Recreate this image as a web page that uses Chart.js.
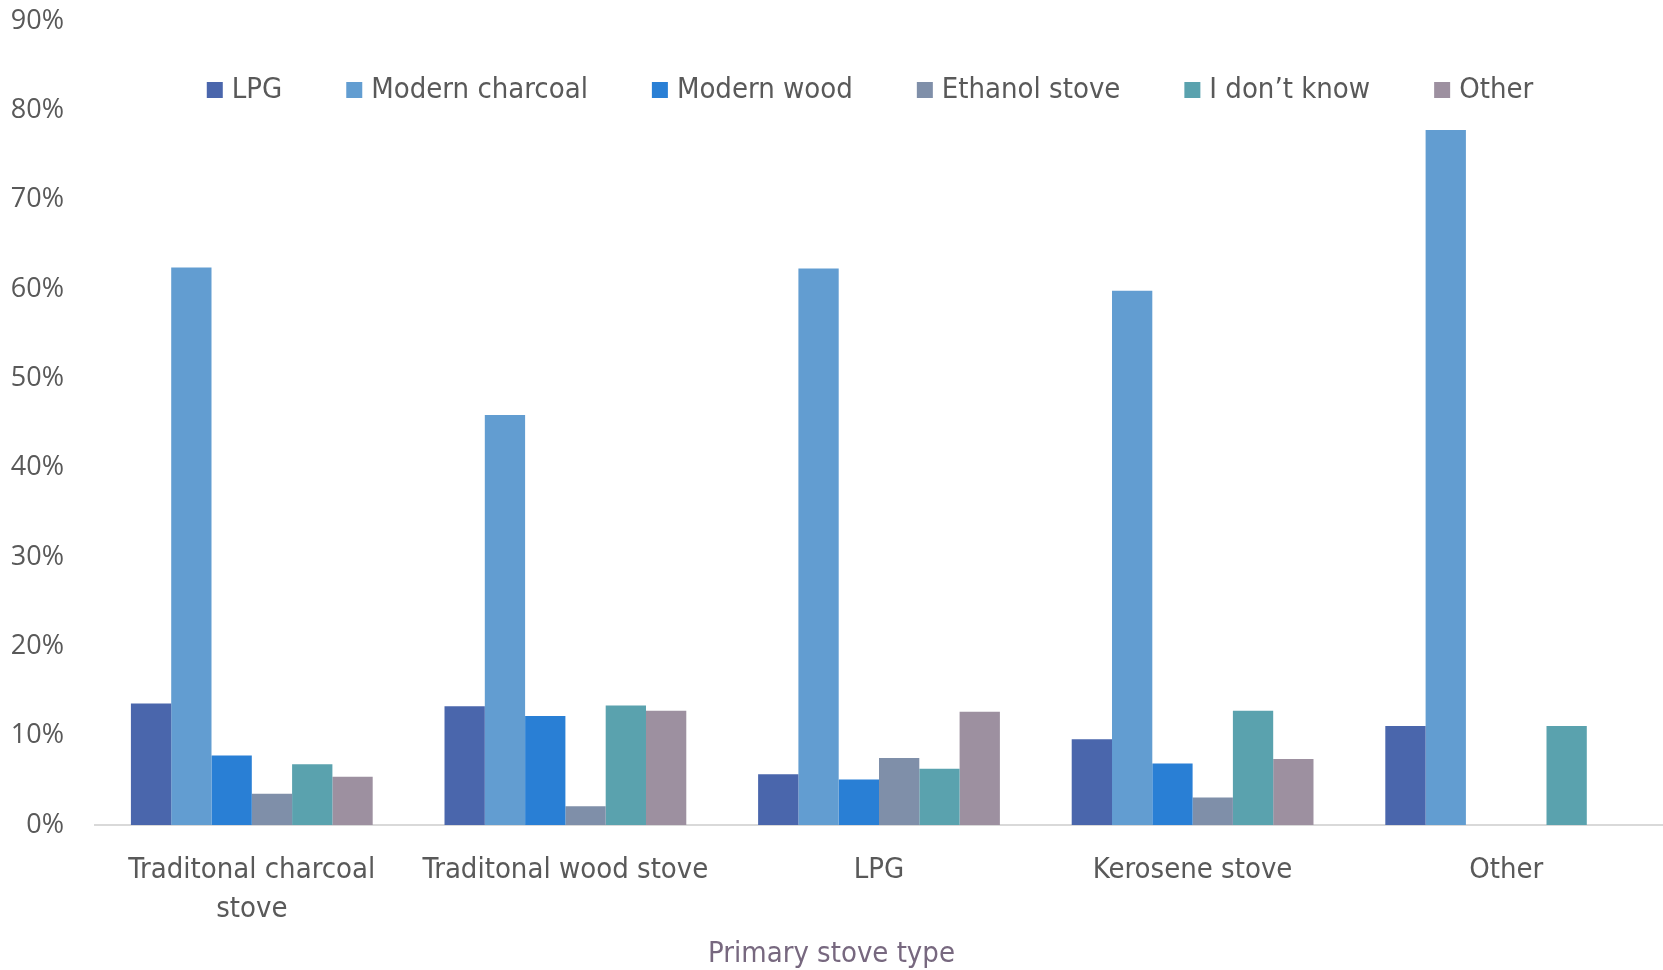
<!DOCTYPE html>
<html>
<head>
<meta charset="utf-8">
<script src="https://cdn.jsdelivr.net/npm/chart.js@4.4.1/dist/chart.umd.min.js"></script>
<style>
    html, body { margin: 0; padding: 0; background: #ffffff; }
</style>
</head>
<body>
<canvas id="myChart" width="1663" height="970"></canvas>
<script>
// primary stove type on the x axis, share (%) of each secondary stove per group
const stoveTypes = [["Traditonal charcoal", "stove"], "Traditonal wood stove", "LPG", "Kerosene stove", "Other"];
const seriesNames = ["LPG", "Modern charcoal", "Modern wood", "Ethanol stove", "I don\u2019t know", "Other"];
const seriesColors = ["#4A66AC", "#629DD1", "#297FD5", "#7F8FA9", "#5AA2AE", "#9D90A0"];

const lpg = [13.6, 13.3, 5.7, 9.6, 11.1];
const modernCharcoal = [62.4, 45.9, 62.3, 59.8, 77.8];
const modernWood = [7.8, 12.2, 5.1, 6.9, 0];
const ethanolStove = [3.5, 2.1, 7.5, 3.1, 0];
const dontKnow = [6.8, 13.4, 6.3, 12.8, 11.1];
const other = [5.4, 12.8, 12.7, 7.4, 0];

const yTicks = [0, 10, 20, 30, 40, 50, 60, 70, 80, 90];

const narrowFont = "'DejaVu Sans Condensed', 'Liberation Sans Narrow', 'Open Sans', sans-serif";
const textGray = "#595959";

const values = [lpg, modernCharcoal, modernWood, ethanolStove, dontKnow, other];

// legend drawn as one row inside the plot area, near its top
const legendInArea = {
    id: 'legendInArea',
    afterDraw: function (chart, args, opts) {
        const ctx = chart.ctx;
        const area = chart.chartArea;
        const box = opts.boxSize, gap = opts.gap, spacing = opts.spacing;
        ctx.save();
        ctx.font = opts.fontSize + "px " + narrowFont;
        const items = chart.data.datasets.map(function (ds) {
            return { text: ds.label, color: ds.backgroundColor, w: ctx.measureText(ds.label).width };
        });
        let total = 0;
        items.forEach(function (it, i) {
            total += box + gap + it.w + (i > 0 ? spacing : 0);
        });
        let x = (area.left + area.right) / 2 - total / 2 + opts.offsetX;
        const y = area.top + opts.offsetY;
        ctx.textBaseline = 'middle';
        ctx.textAlign = 'left';
        items.forEach(function (it) {
            ctx.fillStyle = it.color;
            ctx.fillRect(x, y - box / 2, box, box);
            ctx.fillStyle = textGray;
            ctx.fillText(it.text, x + box + gap, y);
            x += box + gap + it.w + spacing;
        });
        ctx.restore();
    }
};

var data = {
    labels: stoveTypes,
    datasets: seriesNames.map(function (name, i) {
        return {
            label: name,
            data: values[i],
            backgroundColor: seriesColors[i],
            borderWidth: 0
        };
    })
};

var options = {
    responsive: false,
    animation: false,
    devicePixelRatio: 1,
    layout: {
        autoPadding: false,
        padding: { top: 21, left: 0, right: 0, bottom: 0 }
    },
    datasets: {
        bar: { categoryPercentage: 0.771, barPercentage: 1.0 }
    },
    plugins: {
        legend: { display: false },
        legendInArea: { boxSize: 16, gap: 9, spacing: 64, fontSize: 29, offsetX: -9, offsetY: 69 },
        title: {
            display: true,
            position: 'bottom',
            text: 'Primary stove type',
            color: '#77687F',
            font: { family: narrowFont, size: 29, weight: 'normal', lineHeight: 1.1 },
            padding: { top: 11, bottom: 0 }
        },
        tooltip: { enabled: false }
    },
    scales: {
        x: {
            grid: { display: false, drawTicks: false },
            border: { display: true, color: '#D9D9D9', width: 2 },
            afterFit: function (scale) {
                scale.height = 102;
            },
            ticks: {
                color: textGray,
                font: { family: narrowFont, size: 29, lineHeight: 1.345 },
                padding: 26,
                maxRotation: 0,
                autoSkip: false
            }
        },
        y: {
            min: yTicks[0],
            max: yTicks[yTicks.length - 1],
            grid: { display: false, drawTicks: false },
            border: { display: false },
            afterBuildTicks: function (scale) {
                scale.ticks = yTicks.map(function (v) { return { value: v }; });
            },
            afterFit: function (scale) {
                scale.width = 95;
                scale.paddingTop = 0;
                scale.paddingBottom = 0;
            },
            ticks: {
                padding: 31,
                color: textGray,
                font: { family: "'Open Sans', sans-serif", size: 27 },
                callback: function (v) { return v + '%'; }
            }
        }
    }
};

var ctx = document.getElementById('myChart').getContext('2d');
var myChart = new Chart(ctx, {
    type: 'bar',
    data: data,
    options: options,
    plugins: [legendInArea]
});
</script>
</body>
</html>
